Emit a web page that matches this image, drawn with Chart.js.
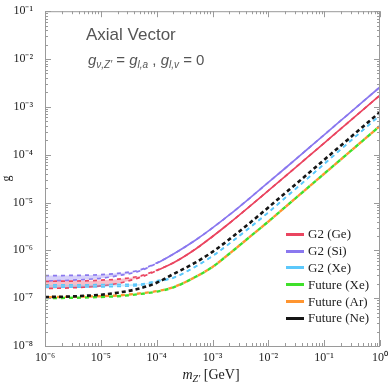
<!DOCTYPE html>
<html>
<head>
<meta charset="utf-8">
<script src="https://cdn.jsdelivr.net/npm/chart.js@4.4.1/dist/chart.umd.min.js"></script>
<style>
  body { margin: 0; background: #fff; }
  #wrap { position: relative; width: 388px; height: 388px; }
  .note { position: absolute; color: #555; font-family: "Liberation Sans", Arial, sans-serif; white-space: nowrap; }
  .note sub { font-size: 10px; vertical-align: -3px; }
  #xtitle { position: absolute; left: 0; width: 422px; top: 367px; text-align: center; font-family: "Liberation Serif", serif; font-size: 14px; color: #222; }
  #xtitle sub { font-size: 10px; vertical-align: -3px; }
  #legend { position: absolute; left: 286px; top: 226px; font-family: "Liberation Serif", serif; font-size: 13px; color: #222; }
  .row { height: 16.8px; display: flex; align-items: center; }
  .sw { width: 18px; height: 3px; margin-right: 4px; }
</style>
</head>
<body>
<div id="wrap">
  <canvas id="chart" width="388" height="388"></canvas>
  <div class="note" style="left:86px;top:25px;font-size:17px">Axial Vector</div>
  <div class="note" style="left:88px;top:51px;font-size:15px"><i>g</i><sub><i>ν,Z′</i></sub> = <i>g</i><sub><i>l,a</i></sub> , <i>g</i><sub><i>l,v</i></sub> = 0</div>
  <div id="xtitle"><i>m</i><sub><i>Z′</i></sub> [GeV]</div>
  <div id="legend"></div>
</div>
<script>
// mass points (GeV)
const masses = [1e-6, 2e-6, 5e-6, 1e-5, 2e-5, 5e-5, 1e-4, 2e-4, 5e-4, 1e-3, 2e-3, 5e-3, 1e-2, 2e-2, 5e-2, 1e-1, 2e-1, 5e-1, 1];

// G2 bands: upper / lower bounds on g
const geUpper = [2.25e-7, 2.27e-7, 2.3e-7, 2.38e-7, 2.5e-7, 2.9e-7, 3.85e-7, 5.5e-7, 1.07e-6, 1.95e-6, 3.69e-6, 8.94e-6, 1.77e-5, 3.52e-5, 8.77e-5, 1.75e-4, 3.5e-4, 8.75e-4, 1.75e-3];
const geLower = [1.6e-7, 1.62e-7, 1.7e-7, 1.8e-7, 2.02e-7, 2.7e-7, 3.75e-7, 5.5e-7, 1.07e-6, 1.95e-6, 3.69e-6, 8.94e-6, 1.77e-5, 3.52e-5, 8.77e-5, 1.75e-4, 3.5e-4, 8.75e-4, 1.75e-3];
const siUpper = [2.95e-7, 2.97e-7, 3.02e-7, 3.1e-7, 3.3e-7, 3.9e-7, 5.45e-7, 8.4e-7, 1.65e-6, 2.95e-6, 5.5e-6, 1.33e-5, 2.63e-5, 5.2e-5, 1.3e-4, 2.6e-4, 5.2e-4, 1.3e-3, 2.6e-3];
const siLower = [2.3e-7, 2.33e-7, 2.45e-7, 2.6e-7, 2.95e-7, 3.7e-7, 5.35e-7, 8.4e-7, 1.65e-6, 2.95e-6, 5.5e-6, 1.33e-5, 2.63e-5, 5.2e-5, 1.3e-4, 2.6e-4, 5.2e-4, 1.3e-3, 2.6e-3];
const xeUpper = [1.9e-7, 1.9e-7, 1.9e-7, 1.92e-7, 1.94e-7, 1.97e-7, 2.3e-7, 2.7e-7, 4.6e-7, 7.6e-7, 1.38e-6, 3.2e-6, 6.2e-6, 1.25e-5, 3.15e-5, 6.4e-5, 1.3e-4, 3.3e-4, 6.7e-4];
const xeLower = [1.7e-7, 1.7e-7, 1.71e-7, 1.72e-7, 1.76e-7, 1.85e-7, 2.2e-7, 2.65e-7, 4.6e-7, 7.6e-7, 1.38e-6, 3.2e-6, 6.2e-6, 1.25e-5, 3.15e-5, 6.4e-5, 1.3e-4, 3.3e-4, 6.7e-4];

// future projections
const futureXe = [1.0e-7, 1.01e-7, 1.03e-7, 1.06e-7, 1.1e-7, 1.22e-7, 1.37e-7, 1.68e-7, 2.8e-7, 4.5e-7, 8.5e-7, 2.05e-6, 4.0e-6, 8.0e-6, 2.0e-5, 4.0e-5, 8.0e-5, 2.0e-4, 4.0e-4];
const futureAr = [1.05e-7, 1.06e-7, 1.08e-7, 1.1e-7, 1.14e-7, 1.26e-7, 1.4e-7, 1.7e-7, 2.8e-7, 4.5e-7, 8.5e-7, 2.05e-6, 4.0e-6, 8.0e-6, 2.0e-5, 4.0e-5, 8.0e-5, 2.0e-4, 4.0e-4];
const futureNe = [1.06e-7, 1.07e-7, 1.12e-7, 1.18e-7, 1.3e-7, 1.6e-7, 2.1e-7, 3.2e-7, 5.6e-7, 9.3e-7, 1.7e-6, 4.0e-6, 7.9e-6, 1.57e-5, 3.9e-5, 7.8e-5, 1.56e-4, 3.9e-4, 7.8e-4];

const legendLabels = ["G2 (Ge)", "G2 (Si)", "G2 (Xe)", "Future (Xe)", "Future (Ar)", "Future (Ne)"];
const colors = {
  ge: "#ea4560",
  si: "#8a78ef",
  xe: "#5cc8fb",
  fxe: "#3fe02a",
  far: "#ff9530",
  fne: "#151515"
};
const legendColors = [colors.ge, colors.si, colors.xe, colors.fxe, colors.far, colors.fne];

// G2 (Ge/Si) bands close up around here; beyond it their curve is solid
const solidFrom = 1e-4;

const pts = arr => arr.map((g, i) => ({ x: masses[i], y: g }));

function curve(data, color, opts) {
  return Object.assign({
    data: pts(data),
    borderColor: color,
    borderWidth: 1.7,
    borderDash: [4, 4],
    borderDashOffset: 0,
    pointRadius: 0,
    cubicInterpolationMode: "monotone",
    fill: false,
    backgroundColor: "transparent"
  }, opts);
}
const dashThenSolid = { borderDash: c => (c.p0.parsed.x >= solidFrom * 0.999 ? [] : [4, 4]) };

const datasets = [
  curve(futureNe, colors.fne, { order: 1, borderWidth: 2.6, borderDash: [4, 3] }),
  curve(futureXe, colors.fxe, { order: 2, borderWidth: 2.4 }),
  curve(futureAr, colors.far, { order: 3, borderWidth: 2.4, borderDashOffset: 4 }),
  curve(xeUpper, colors.xe, { order: 5 }),
  curve(xeLower, colors.xe, { order: 4, fill: "-1", backgroundColor: "rgba(92,200,251,0.3)" }),
  curve(geUpper, colors.ge, { order: 7 }),
  curve(geLower, colors.ge, { order: 6, borderDashOffset: 4, fill: "-1", backgroundColor: "rgba(234,69,96,0.35)", segment: dashThenSolid }),
  curve(siUpper, colors.si, { order: 9 }),
  curve(siLower, colors.si, { order: 8, borderDashOffset: 4, fill: "-1", backgroundColor: "rgba(138,120,239,0.35)", segment: dashThenSolid })
];

const supers = { "-": "⁻", "0": "⁰", "1": "¹", "2": "²", "3": "³", "4": "⁴", "5": "⁵", "6": "⁶", "7": "⁷", "8": "⁸", "9": "⁹" };
function powLabel(v) {
  const e = Math.round(Math.log10(v));
  return "10" + String(e).split("").map(c => supers[c]).join("");
}
function decadeTicks(scale, lo, hi) {
  const t = [];
  for (let e = lo; e <= hi; e++) t.push({ value: Math.pow(10, e) });
  scale.ticks = t;
}

// frame with inward ticks on all four sides
const frameTicks = {
  id: "frameTicks",
  afterDraw(chart) {
    const { ctx, chartArea: a, scales } = chart;
    ctx.save();
    ctx.strokeStyle = "#9a9a9a";
    ctx.lineWidth = 1;
    ctx.strokeRect(a.left + 0.5, a.top + 0.5, a.right - a.left - 1, a.bottom - a.top);
    ctx.beginPath();
    for (let e = -6; e <= 0; e++) {
      for (let k = 1; k <= 9; k++) {
        const v = k * Math.pow(10, e);
        if (v > 1.0001) break;
        const px = Math.round(scales.x.getPixelForValue(v)) + 0.5;
        const len = k === 1 ? 6 : 3;
        ctx.moveTo(px, a.bottom); ctx.lineTo(px, a.bottom - len);
        ctx.moveTo(px, a.top); ctx.lineTo(px, a.top + len);
      }
    }
    for (let e = -8; e <= -1; e++) {
      for (let k = 1; k <= 9; k++) {
        const v = k * Math.pow(10, e);
        if (v > 0.10001) break;
        const py = Math.round(scales.y.getPixelForValue(v)) + 0.5;
        const len = k === 1 ? 6 : 3;
        ctx.moveTo(a.left, py); ctx.lineTo(a.left + len, py);
        ctx.moveTo(a.right, py); ctx.lineTo(a.right - len, py);
      }
    }
    ctx.stroke();
    ctx.restore();
  }
};

new Chart(document.getElementById("chart"), {
  type: "line",
  data: { datasets },
  options: {
    responsive: false,
    animation: false,
    layout: { padding: { top: 11, right: 8, left: 0, bottom: 0 } },
    plugins: { legend: { display: false }, tooltip: { enabled: false } },
    scales: {
      x: {
        type: "logarithmic",
        min: 1e-6,
        max: 1,
        grid: { display: false },
        border: { display: false },
        afterBuildTicks: s => decadeTicks(s, -6, 0),
        afterFit: s => { s.height = 42; },
        ticks: {
          callback: v => powLabel(v),
          maxRotation: 0,
          autoSkip: false,
          padding: -3,
          color: "#222",
          font: { family: "Liberation Serif", size: 12 }
        }
      },
      y: {
        type: "logarithmic",
        min: 1e-8,
        max: 1e-1,
        grid: { display: false },
        border: { display: false },
        afterBuildTicks: s => decadeTicks(s, -8, -1),
        afterFit: s => { s.width = 45; },
        title: {
          display: true,
          text: "g",
          color: "#222",
          padding: { top: 0, bottom: 0 },
          font: { family: "Liberation Serif", size: 12 }
        },
        ticks: {
          callback: v => powLabel(v),
          autoSkip: false,
          padding: 4,
          color: "#222",
          font: { family: "Liberation Serif", size: 12 }
        }
      }
    }
  },
  plugins: [frameTicks]
});

// legend
const legend = document.getElementById("legend");
legendLabels.forEach((label, i) => {
  const row = document.createElement("div");
  row.className = "row";
  row.innerHTML = '<span class="sw" style="background:' + legendColors[i] + '"></span>' + label;
  legend.appendChild(row);
});
</script>
</body>
</html>
